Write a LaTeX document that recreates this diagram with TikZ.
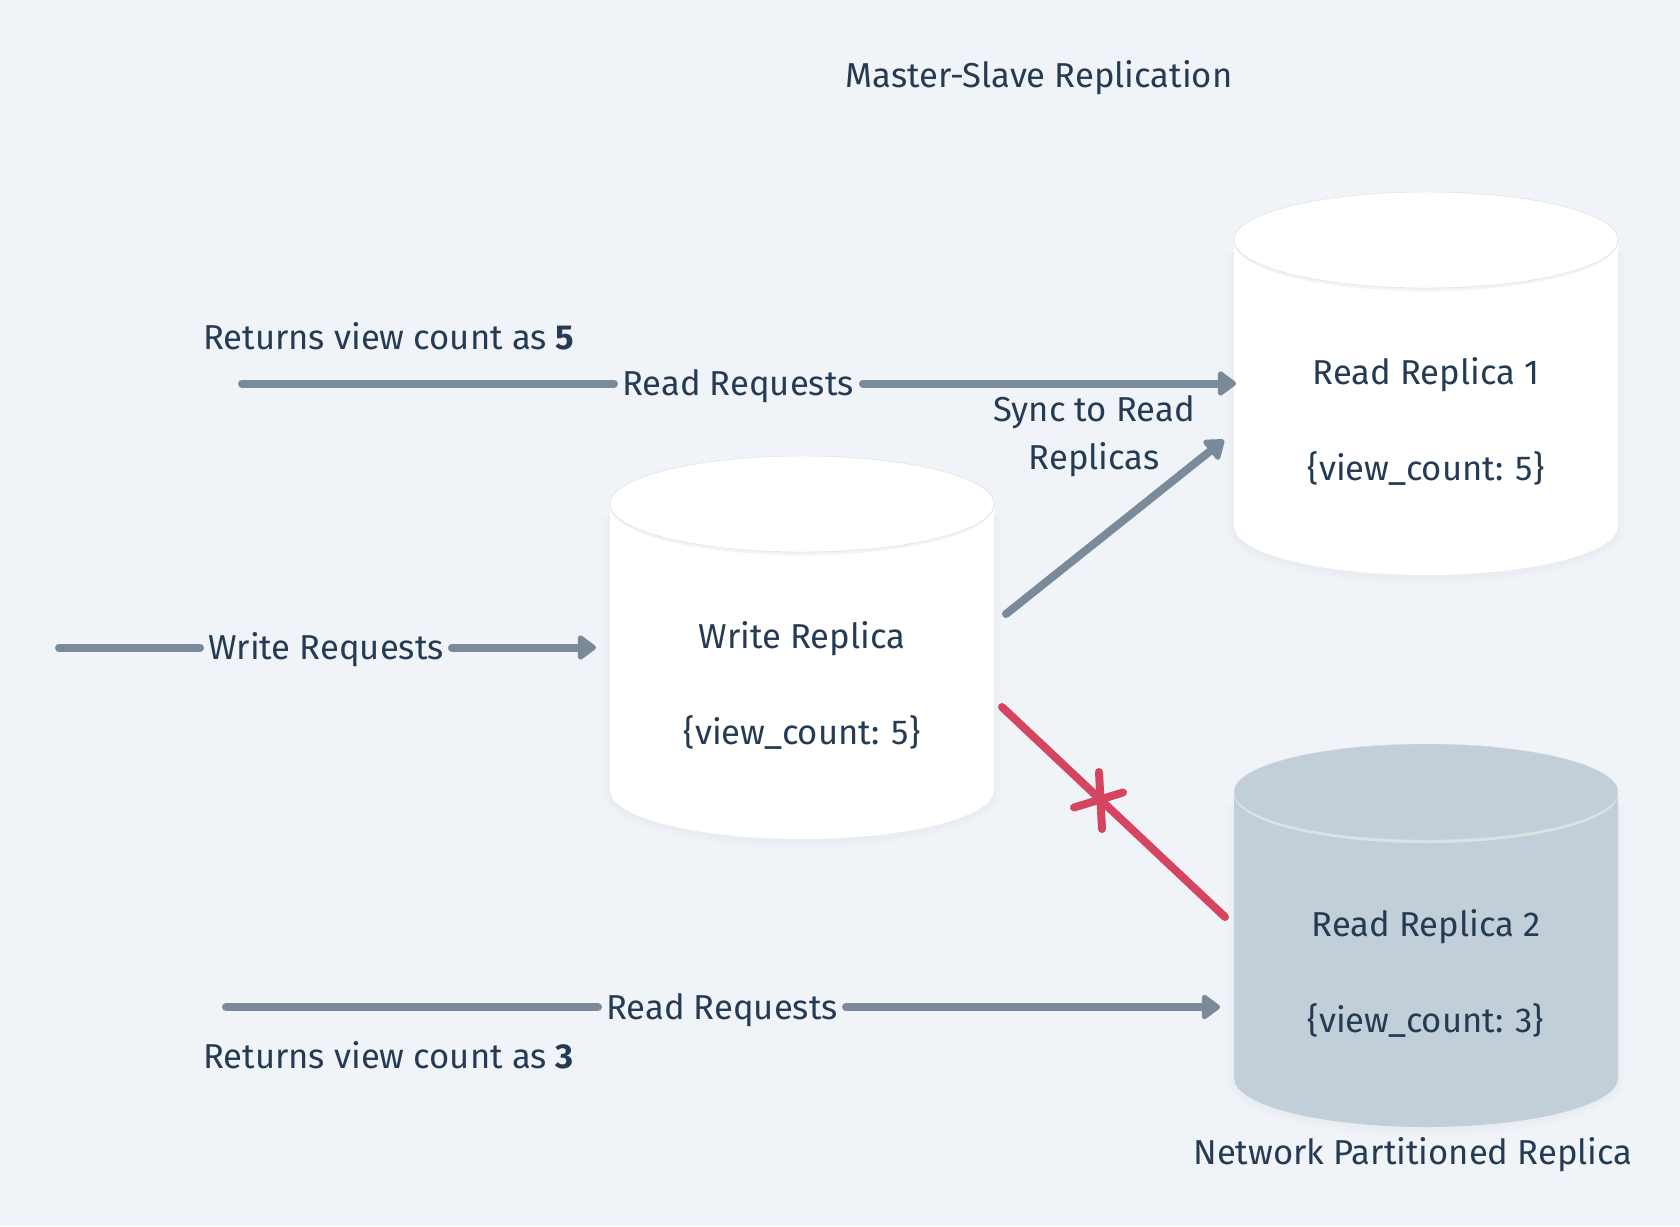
\documentclass[tikz,border=0pt]{standalone}
\usepackage{fontspec}
\setmainfont{Fira Sans}
\usetikzlibrary{arrows.meta}
\definecolor{bgc}{HTML}{F0F4F8}
\definecolor{txt}{HTML}{243B53}
\definecolor{conn}{HTML}{7B8A9A}
\definecolor{redc}{HTML}{D64560}
\definecolor{grayc}{HTML}{C2CFD9}
\tikzset{
  lbl/.style={text=txt,font=\fontsize{17.3}{20}\selectfont,inner sep=0pt,anchor=base},
  lblw/.style={lbl,anchor=base west},
  conline/.style={draw=conn,line width=4pt,line cap=round},
  conarrow/.style={conline,-{Triangle[length=10pt,width=14pt,round]}},
  redline/.style={draw=redc,line width=4pt,line cap=round},
}
\newcommand{\cylinder}[3]{%
  % #1 centre x, #2 top y, #3 fill
  \foreach \s/\o in {8/0.006,5/0.008,2/0.01}{
    \fill[black,opacity=\o] (#1-192-\s,#2+60) -- (#1-192-\s,#2+336) arc[start angle=180,end angle=360,x radius=96pt+\s*0.5pt,y radius=24.5pt+\s*0.5pt] -- (#1+192+\s,#2+60) -- cycle;
  }
  \fill[#3] (#1-192,#2+52) -- (#1-192,#2+334) arc[start angle=180,end angle=360,x radius=96pt,y radius=24.5pt] -- (#1+192,#2+52) -- cycle;
  \fill[#3!88!black!40!white] (#1,#2+50) ellipse[x radius=96pt,y radius=24.5pt];
  \fill[#3] (#1,#2+48) ellipse[x radius=96pt,y radius=24pt];
  \draw[black!14,line width=0.2pt] (#1,#2+48) ellipse[x radius=96pt,y radius=24pt];
}
\begin{document}
\begin{tikzpicture}[x=0.5pt,y=-0.5pt]
\useasboundingbox (0,0) rectangle (1680,1226);
\fill[bgc] (0,0) rectangle (1680,1226);
\cylinder{802}{456}{white}
\cylinder{1426}{192}{white}
\cylinder{1426}{744}{grayc}
\node[lbl] (title) at (1039,87) {Master-Slave Replication};
\node[lbl] (wr1) at (802,648) {Write Replica};
\node[lbl] (wr2) at (802,744) {\{view\_count: 5\}};
\node[lbl] (ra1) at (1426,384) {Read Replica 1};
\node[lbl] (ra2) at (1426,480) {\{view\_count: 5\}};
\node[lbl] (rb1) at (1426,936) {Read Replica 2};
\node[lbl] (rb2) at (1426,1032) {\{view\_count: 3\}};
\node[lblw] (ret5) at (203,349) {Returns view count as \textbf{5}};
\node[lblw] (ret3) at (203,1068) {Returns view count as \textbf{3}};
\node[lbl] (rr1) at (738,395) {Read Requests};
\node[lbl] (rr2) at (722,1019) {Read Requests};
\node[lbl] (wrq) at (326,659) {Write Requests};
\node[lbl] (sync1) at (1094,421) {Sync to Read};
\node[lbl] (sync2) at (1094,469) {Replicas};
\node[lbl] (net) at (1413,1164) {Network Partitioned Replica};
\coordinate (a1) at (242,383.5); \coordinate (a2) at (614,383.5);
\coordinate (a3) at (863,383.5); \coordinate (a4) at (1236,383.5);
\coordinate (b1) at (59,647.5);  \coordinate (b2) at (200,647.5);
\coordinate (b3) at (452,647.5); \coordinate (b4) at (596,647.5);
\coordinate (c1) at (226,1007); \coordinate (c2) at (598,1007);
\coordinate (c3) at (846,1007); \coordinate (c4) at (1220,1007);
\coordinate (s1) at (1006,614); \coordinate (s2) at (1224,440);
\coordinate (x1) at (1002,707); \coordinate (x2) at (1225,917);
\coordinate (y1) at (1099,772); \coordinate (y2) at (1102,829);
\coordinate (z1) at (1074,807.5); \coordinate (z2) at (1123,792.5);
\draw[conline] (a1) -- (a2);
\draw[conarrow] (a3) -- (a4);
\draw[conline] (b1) -- (b2);
\draw[conarrow] (b3) -- (b4);
\draw[conline] (c1) -- (c2);
\draw[conarrow] (c3) -- (c4);
\draw[conarrow] (s1) -- (s2);
\draw[redline] (x1) -- (x2);
\draw[redline] (y1) -- (y2);
\draw[redline] (z1) -- (z2);
\end{tikzpicture}
\end{document}
